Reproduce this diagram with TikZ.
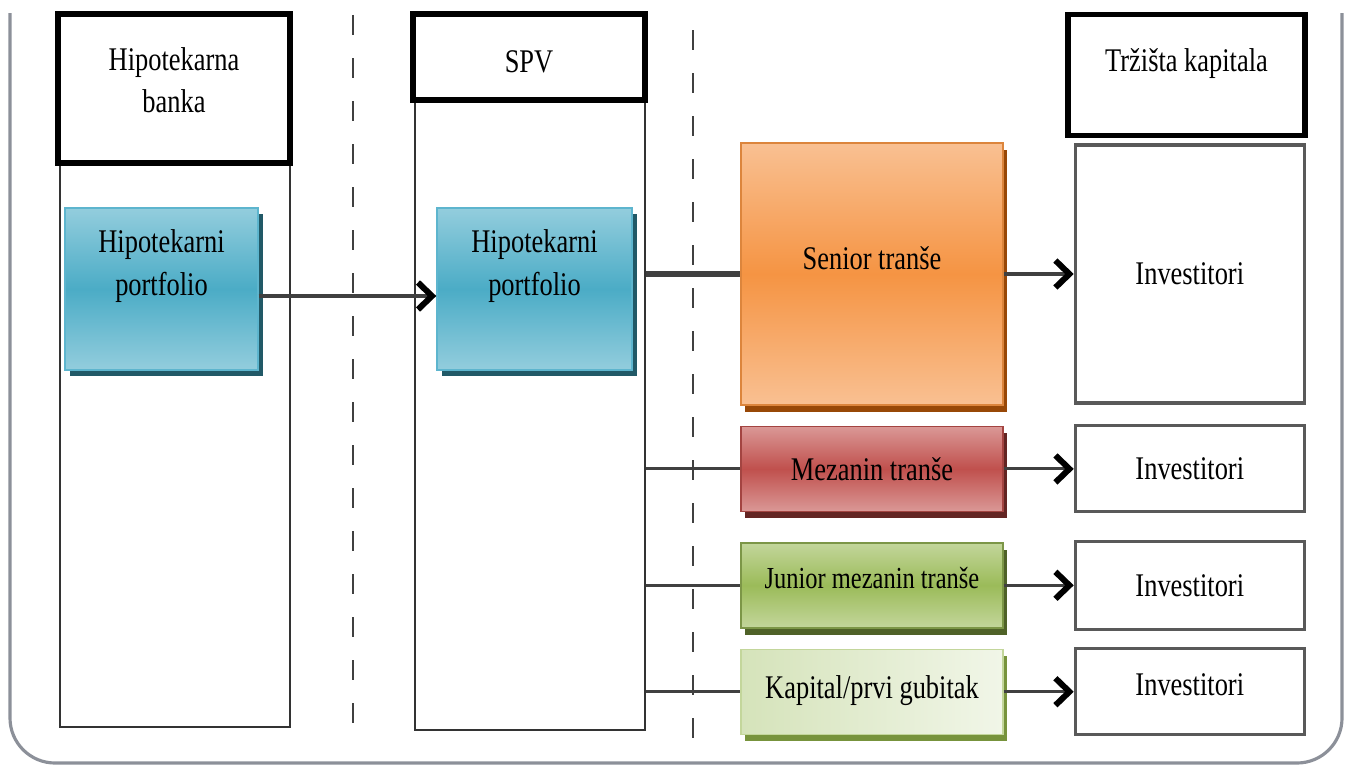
\documentclass[tikz,border=0pt]{standalone}
\usepackage{fontspec}
\setmainfont{Liberation Serif}[FakeStretch=0.8]
\usepackage{tikz}
\usetikzlibrary{calc,arrows.meta,positioning,shadows}

\definecolor{frameGray}{HTML}{8C9099}
\definecolor{linkGray}{HTML}{404040}
\definecolor{blueLight}{HTML}{93CDDD}
\definecolor{blueMid}{HTML}{4BACC6}
\definecolor{blueEdge}{HTML}{5DB5CE}
\definecolor{blueShadow}{HTML}{215967}
\definecolor{orangeLight}{HTML}{F9C092}
\definecolor{orangeMid}{HTML}{F59443}
\definecolor{orangeShadow}{HTML}{984807}
\definecolor{redLight}{HTML}{DA9896}
\definecolor{redMid}{HTML}{C0504D}
\definecolor{redShadow}{HTML}{632523}
\definecolor{greenLight}{HTML}{C3D69B}
\definecolor{greenMid}{HTML}{9BBB59}
\definecolor{greenShadow}{HTML}{4F6228}
\definecolor{paleGreenA}{HTML}{D5E3BA}
\definecolor{paleGreenB}{HTML}{F1F6E8}
\definecolor{paleShadow}{HTML}{77933C}

\begin{document}
\begin{tikzpicture}[>={Straight Barb[length=1.4mm,width=2.7mm,line width=1.7pt,color=black]},
    every node/.style={font=\fontsize{9.4}{12}\selectfont, align=center, text=black},
    header/.style={draw, rectangle, line width=1.5pt, fill=white},
    lane/.style={draw=black!80, rectangle, line width=0.6pt, minimum width=2.3cm},
    invbox/.style={draw=black!65, rectangle, line width=0.9pt, minimum width=2.29cm},
    pfbox/.style={rectangle, draw=blueEdge, top color=blueLight, bottom color=blueLight, middle color=blueMid,
        minimum height=1.62cm, text depth=0.53cm,
        drop shadow={shadow xshift=0.5mm, shadow yshift=-0.6mm, fill=blueShadow, opacity=1}},
    tranche/.style={rectangle, minimum width=2.62cm, minimum height=0.85cm},
    link/.style={draw=linkGray, line width=0.9pt},
    divider/.style={draw=black!75, line width=0.6pt, dash pattern=on 2mm off 2.3mm},
    frame/.style={draw=frameGray, line width=0.9pt, rounded corners=0.45cm}]
    \useasboundingbox (0,0) rectangle (13.52,-7.65);

    % Frame and lane dividers
    \draw[frame] (0.10,-0.13) -- (0.10,-7.63) -- (13.42,-7.63) -- (13.42,-0.13);
    \draw[divider] (3.53,-0.15) -- (3.53,-7.45);
    \draw[divider] (6.93,-0.30) -- (6.93,-7.45);

    % Lanes and headers
    \node[lane, minimum height=5.64cm] (banklane) at (1.75,-4.45) {};
    \node[lane, minimum height=6.30cm] (spvlane) at (5.30,-4.15) {};
    \node[header, minimum width=2.32cm, minimum height=1.49cm, text depth=0.17cm] (bankhead) at (1.74,-0.885) {Hipotekarna\\banka};
    \node[header, minimum width=2.32cm, minimum height=0.86cm, text height=0.32cm] (spvhead) at (5.29,-0.57) {SPV};
    \node[header, minimum width=2.37cm, minimum height=1.21cm, text depth=0.30cm] (markethead) at (11.865,-0.75) {Tržišta kapitala};

    % Portfolios
    \node[pfbox, minimum width=1.93cm] (bankpf) at (1.615,-2.89) {Hipotekarni\\portfolio};
    \node[pfbox, minimum width=1.95cm] (spvpf) at (5.345,-2.89) {Hipotekarni\\portfolio};

    % Tranches
    \node[tranche, minimum height=2.62cm, text depth=0.32cm, draw=orangeMid!90!black,
        top color=orangeLight, bottom color=orangeLight, middle color=orangeMid,
        drop shadow={shadow xshift=0.4mm, shadow yshift=-0.7mm, fill=orangeShadow, opacity=1}]
        (senior) at (8.72,-2.74) {Senior tranše};
    \node[tranche, below=0.20cm of senior, draw=redMid!85!black,
        top color=redLight, bottom color=redLight, middle color=redMid,
        drop shadow={shadow xshift=0.4mm, shadow yshift=-0.7mm, fill=redShadow, opacity=1}]
        (mezzanine) {Mezanin tranše};
    \node[tranche, below=0.30cm of mezzanine, draw=greenMid!80!black, text depth=0.15cm,
        font=\fontsize{8.7}{11}\selectfont,
        top color=greenLight, bottom color=greenLight, middle color=greenMid,
        drop shadow={shadow xshift=0.4mm, shadow yshift=-0.7mm, fill=greenShadow, opacity=1}]
        (junior) {Junior mezanin tranše};
    \node[tranche, below=0.20cm of junior, draw=greenLight, text depth=0.10cm,
        left color=paleGreenA, right color=paleGreenB,
        drop shadow={shadow xshift=0.4mm, shadow yshift=-0.7mm, fill=paleShadow, opacity=1}]
        (capital) {Kapital/prvi gubitak};

    % Investors
    \node[invbox, right=0.70cm of senior, minimum height=2.58cm] (inv1) {Investitori};
    \node[invbox, right=0.70cm of mezzanine, minimum height=0.86cm] (inv2) {Investitori};
    \node[invbox, right=0.70cm of junior, minimum height=0.88cm] (inv3) {Investitori};
    \node[invbox, right=0.70cm of capital, minimum height=0.86cm, text depth=0.15cm] (inv4) {Investitori};

    % Arrows
    \draw[link, ->] ([yshift=-0.7mm]bankpf.east) -- ([yshift=-0.7mm]spvpf.west);
    \draw[link, line width=1.5pt] (senior.west -| spvlane.east) -- (senior.west);
    \draw[link] (mezzanine.west -| spvlane.east) -- (mezzanine.west);
    \draw[link] (junior.west -| spvlane.east) -- (junior.west);
    \draw[link] (capital.west -| spvlane.east) -- (capital.west);
    \draw[link, ->, line width=1.3pt] (senior.east) -- (inv1.west);
    \draw[link, ->] (mezzanine.east) -- (inv2.west);
    \draw[link, ->] (junior.east) -- (inv3.west);
    \draw[link, ->] (capital.east) -- (inv4.west);
\end{tikzpicture}
\end{document}
